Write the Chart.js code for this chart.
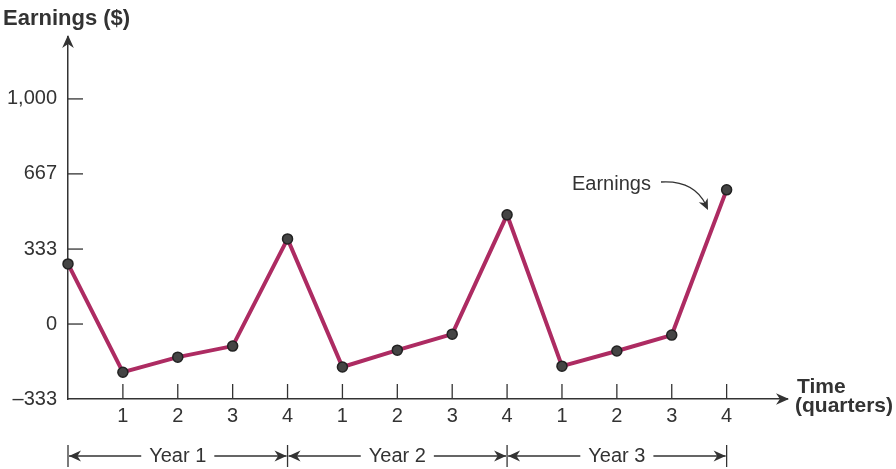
<!DOCTYPE html>
<html>
<head>
<meta charset="utf-8">
<script src="https://cdn.jsdelivr.net/npm/chart.js@4/dist/chart.umd.min.js"></script>
<style>
  html, body { margin: 0; padding: 0; background: #fff; }
  canvas { display: block; }
</style>
</head>
<body>
<canvas id="chart" width="896" height="469"></canvas>
<script>
// quarter positions along the time axis (0 = start of year 1)
const quarterIndex = [0, 1, 2, 3, 4, 5, 6, 7, 8, 9, 10, 11, 12];
const quarterLabels = ['', '1', '2', '3', '4', '1', '2', '3', '4', '1', '2', '3', '4'];
const earnings = [267, -214, -147, -98, 378, -191, -116, -45, 485, -187, -120, -49, 596];
const yTicks = [-333, 0, 333, 667, 1000];
const yearLabels = ['Year 1', 'Year 2', 'Year 3'];
const yearBounds = [0, 4, 8, 12];

const ink = '#333';
const FONT = '"Liberation Sans", Arial, sans-serif';

function arrowHead(ctx, x, y, angle, size) {
    ctx.save();
    ctx.translate(x, y);
    ctx.rotate(angle);
    ctx.beginPath();
    ctx.moveTo(0, 0);
    ctx.lineTo(-size, -size * 0.45);
    ctx.lineTo(-size * 0.7, 0);
    ctx.lineTo(-size, size * 0.45);
    ctx.closePath();
    ctx.fill();
    ctx.restore();
}

const decorations = {
    id: 'decorations',
    afterDraw(chart) {
        const ctx = chart.ctx;
        const xs = chart.scales.x, ys = chart.scales.y;
        const area = chart.chartArea;
        ctx.save();
        ctx.strokeStyle = ink;
        ctx.fillStyle = ink;
        ctx.lineWidth = 1.3;

        // inward tick marks
        yTicks.forEach(v => {
            const py = ys.getPixelForValue(v);
            if (v === yTicks[0]) return;
            ctx.beginPath();
            ctx.moveTo(area.left, py);
            ctx.lineTo(area.left + 15, py);
            ctx.stroke();
        });
        quarterIndex.slice(1).forEach(q => {
            const px = xs.getPixelForValue(q);
            ctx.beginPath();
            ctx.moveTo(px, area.bottom);
            ctx.lineTo(px, area.bottom - 15);
            ctx.stroke();
        });

        // axis arrows
        arrowHead(ctx, area.left, area.top - 2, -Math.PI / 2, 13);
        arrowHead(ctx, area.right + 2, area.bottom, 0, 13);

        // axis titles
        ctx.textBaseline = 'middle';
        ctx.textAlign = 'left';
        ctx.font = 'bold 22px ' + FONT;
        ctx.fillText('Earnings ($)', 3, 19);
        ctx.font = 'bold 21px ' + FONT;
        ctx.fillText('Time', 797, 387);
        ctx.fillText('(quarters)', 795, 406);

        // year brackets
        const by = 456;
        ctx.font = '20px ' + FONT;
        ctx.textAlign = 'center';
        yearBounds.forEach(q => {
            const px = xs.getPixelForValue(q);
            ctx.beginPath();
            ctx.moveTo(px, by - 11);
            ctx.lineTo(px, by + 11);
            ctx.stroke();
        });
        yearLabels.forEach((label, i) => {
            const x0 = xs.getPixelForValue(yearBounds[i]);
            const x1 = xs.getPixelForValue(yearBounds[i + 1]);
            const mid = (x0 + x1) / 2;
            const half = ctx.measureText(label).width / 2 + 8;
            ctx.fillStyle = ink;
            ctx.fillText(label, mid, by);
            ctx.beginPath();
            ctx.moveTo(x0 + 1, by);
            ctx.lineTo(mid - half, by);
            ctx.moveTo(mid + half, by);
            ctx.lineTo(x1 - 1, by);
            ctx.stroke();
            arrowHead(ctx, x0 + 1, by, Math.PI, 12);
            arrowHead(ctx, x1 - 1, by, 0, 12);
        });

        // series annotation
        ctx.textAlign = 'left';
        ctx.fillText('Earnings', 572, 184);
        ctx.beginPath();
        ctx.moveTo(661, 182);
        ctx.quadraticCurveTo(694, 180, 706, 205);
        ctx.stroke();
        arrowHead(ctx, 708, 210, Math.atan2(25, 12), 11);
        ctx.restore();
    }
};

new Chart(document.getElementById('chart').getContext('2d'), {
    type: 'line',
    data: {
        datasets: [{
            data: quarterIndex.map((q, i) => ({ x: q, y: earnings[i] })),
            borderColor: '#ad2b62',
            borderWidth: 4,
            pointRadius: 5,
            pointBackgroundColor: '#444',
            pointBorderColor: '#222',
            pointBorderWidth: 1.5,
            tension: 0,
            clip: false
        }]
    },
    options: {
        responsive: false,
        animation: false,
        devicePixelRatio: 1,
        layout: { padding: { top: 37, right: 109, left: 0, bottom: 0 } },
        plugins: { legend: { display: false }, tooltip: { enabled: false } },
        scales: {
            x: {
                type: 'linear',
                min: 0,
                max: 13.1,
                afterBuildTicks: s => { s.ticks = quarterIndex.slice(1).map(v => ({ value: v })); },
                afterFit: s => { s.height = 70; },
                ticks: {
                    callback: v => quarterLabels[v],
                    color: ink,
                    padding: 5,
                    maxRotation: 0,
                    autoSkip: false,
                    font: { family: FONT, size: 20 }
                },
                grid: { display: false, drawTicks: false },
                border: { display: true, color: ink, width: 1.5 }
            },
            y: {
                min: -333,
                max: 1275,
                afterBuildTicks: s => { s.ticks = yTicks.map(v => ({ value: v })); },
                afterFit: s => { s.width = 68; },
                ticks: {
                    callback: v => (v < 0 ? '\u2013' : '') + Math.abs(v).toLocaleString('en-US'),
                    color: ink,
                    padding: 11,
                    font: { family: FONT, size: 20 }
                },
                grid: { display: false, drawTicks: false },
                border: { display: true, color: ink, width: 1.5 }
            }
        }
    },
    plugins: [decorations]
});
</script>
</body>
</html>
